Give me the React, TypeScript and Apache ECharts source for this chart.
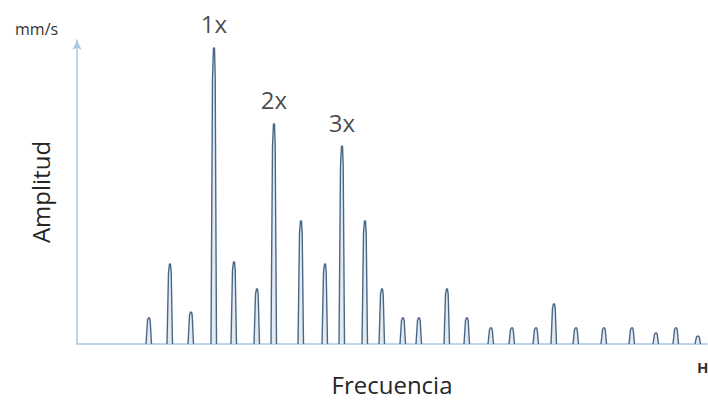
import React, { useEffect, useRef } from "react";
import * as echarts from "echarts";

// Peak frequencies (arbitrary Hz units) and amplitudes (mm/s, % of axis)
const peakFreqs = [36, 46.5, 57, 68.5, 78.5, 90, 98.5, 112, 124, 132.5, 144, 152.5, 163, 171, 185, 195, 207, 217.5, 229.5, 238.5, 249.5, 263.5, 277.5, 289.5, 299.5, 310.5];
const peakAmps = [8.6, 26.3, 10.5, 97.4, 27.0, 18.1, 72.4, 40.5, 26.3, 65.1, 40.5, 18.1, 8.6, 8.6, 18.1, 8.6, 5.3, 5.3, 5.3, 13.2, 5.3, 5.3, 5.3, 3.6, 5.3, 2.6];
const harmonicIdx = [3, 6, 9];
const harmonicLabels = ["1x", "2x", "3x"];

const FONT = "'Open Sans', 'Noto Sans', sans-serif";

export default function App() {
  const ref = useRef<HTMLDivElement>(null);
  useEffect(() => {
    document.body.style.margin = "0";
    if (!ref.current) return;
    const chart = echarts.init(ref.current, null, { renderer: "svg" });

    const lineData: any[] = [];
    peakFreqs.forEach((f, i) => {
      const a = peakAmps[i];
      lineData.push([f - 1.5, 0]);
      lineData.push([f - 0.75, a * 0.9]);
      lineData.push([f - 0.25, a]);
      lineData.push([f + 0.25, a]);
      lineData.push([f + 0.6, a * 0.9]);
      lineData.push([f + 1.25, 0]);
      lineData.push([f + 1.3, "-"]);
    });

    const labelData = harmonicIdx.map((idx, k) => ({
      value: [peakFreqs[idx], peakAmps[idx]],
      label: { formatter: harmonicLabels[k] },
    }));

    chart.setOption({
      animation: false,
      backgroundColor: "#ffffff",
      grid: { left: 77, right: 1, top: 40, bottom: 66 },
      xAxis: {
        type: "value",
        min: 0,
        max: 315,
        name: "Frecuencia",
        nameLocation: "middle",
        nameGap: 28,
        nameTextStyle: { fontFamily: FONT, fontSize: 24, color: "#262626" },
        axisLine: { lineStyle: { color: "#a8c8e6", width: 1.5 } },
        axisTick: { show: false },
        axisLabel: { show: false },
        splitLine: { show: false },
      },
      yAxis: {
        type: "value",
        min: 0,
        max: 100,
        name: "Amplitud",
        nameLocation: "middle",
        nameGap: 25,
        nameTextStyle: { fontFamily: FONT, fontSize: 24, color: "#262626" },
        axisLine: {
          show: true,
          symbol: ["none", "arrow"],
          symbolSize: [7, 10],
          lineStyle: { color: "#a8c8e6", width: 1.5 },
        },
        axisTick: { show: false },
        axisLabel: { show: false },
        splitLine: { show: false },
      },
      series: [
        {
          type: "line",
          data: lineData,
          showSymbol: false,
          symbol: "none",
          connectNulls: false,
          lineStyle: { color: "#4a6886", width: 1.4 },
          areaStyle: { color: "#d6e1ec", origin: "start" },
          z: 3,
        },
        {
          type: "scatter",
          data: labelData,
          symbolSize: 0,
          label: {
            show: true,
            position: "top",
            distance: 12,
            fontFamily: FONT,
            fontSize: 24,
            color: "#1a1a1a",
          },
          z: 4,
        },
      ],
      graphic: [
        {
          type: "text",
          left: 15,
          top: 21,
          style: { text: "mm/s", fontFamily: FONT, fontSize: 16, fill: "#333" },
        },
        {
          type: "text",
          left: 697,
          top: 359,
          style: { text: "H", fontFamily: FONT, fontSize: 15, fontWeight: "bold", fill: "#333" },
        },
      ],
    });
    return () => chart.dispose();
  }, []);
  return <div ref={ref} style={{ width: 708, height: 410 }} />;
}
